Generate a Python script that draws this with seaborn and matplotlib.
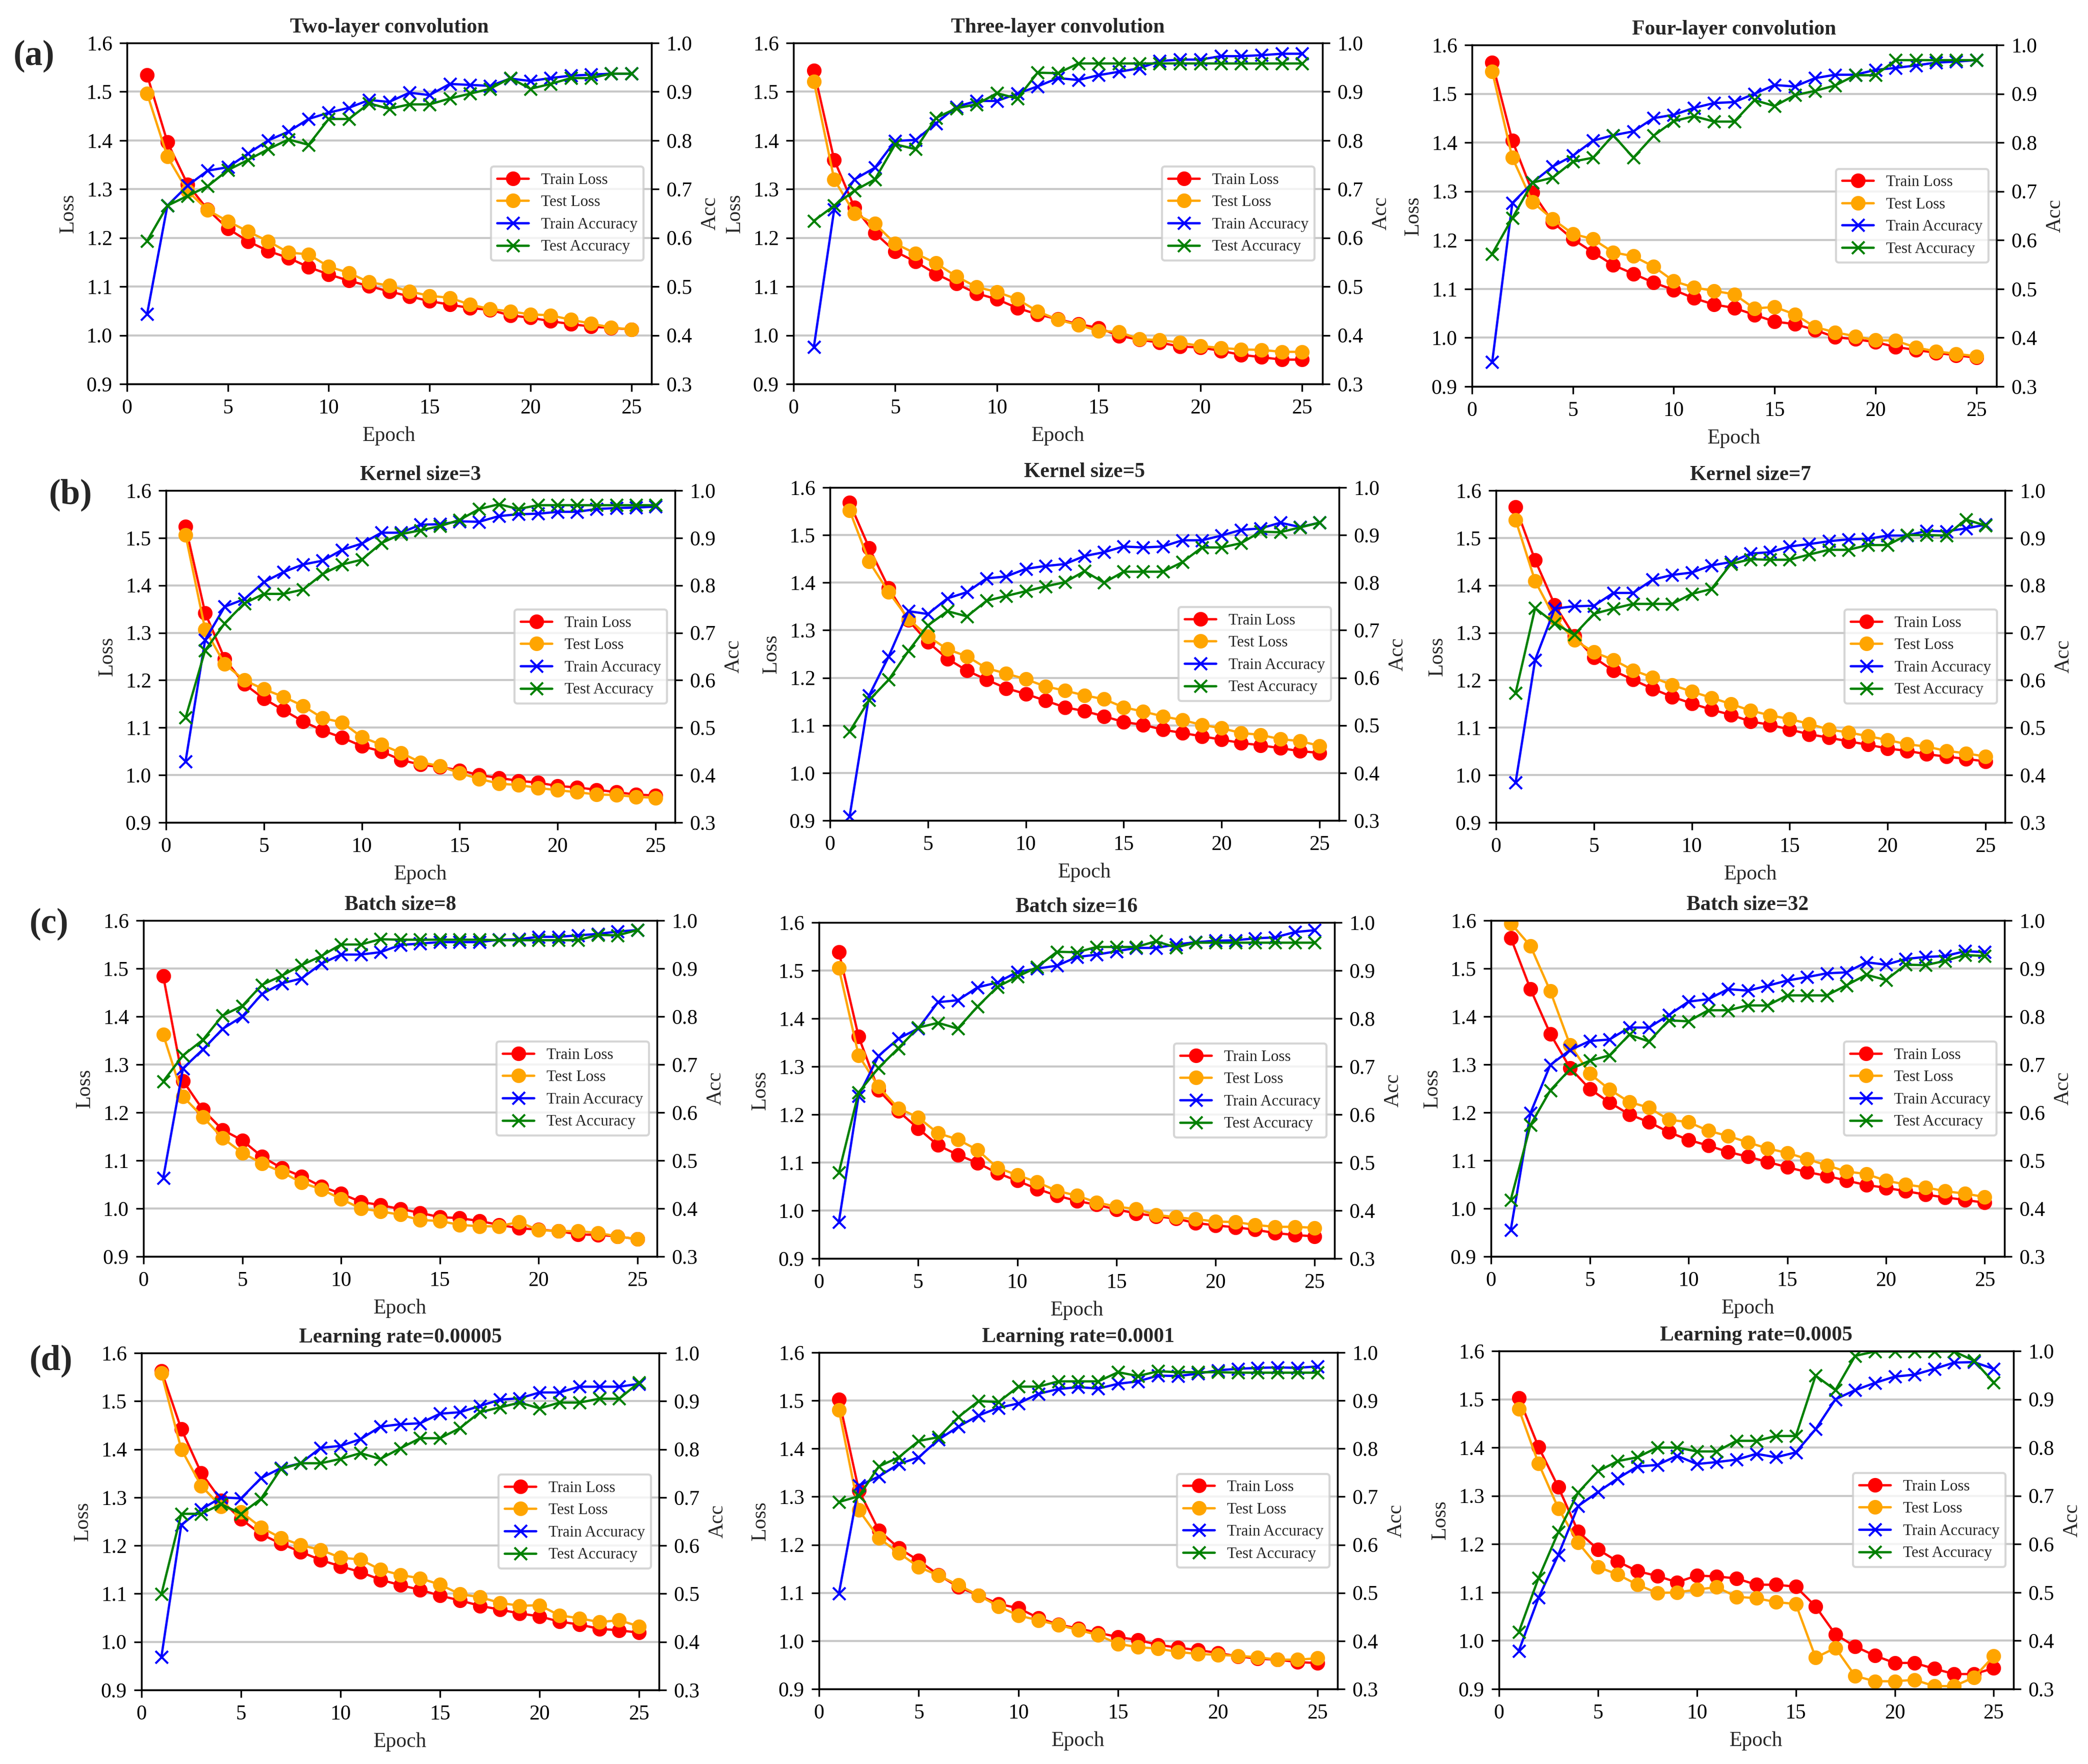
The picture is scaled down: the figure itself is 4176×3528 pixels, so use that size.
import numpy as np
import matplotlib
matplotlib.use("Agg")
import matplotlib.pyplot as plt
import seaborn as sns

# Epoch axis shared by every panel
epochs = np.arange(1, 26)

# (a) number of convolution layers
two_train_loss = [1.534, 1.397, 1.310, 1.258, 1.219, 1.193, 1.173, 1.159, 1.140, 1.125, 1.112, 1.101, 1.090,
                  1.080, 1.070, 1.063, 1.056, 1.052, 1.041, 1.036, 1.029, 1.023, 1.018, 1.015, 1.012]
two_test_loss = [1.496, 1.367, 1.296, 1.257, 1.234, 1.213, 1.193, 1.170, 1.166, 1.141, 1.128, 1.109, 1.102,
                 1.090, 1.081, 1.077, 1.063, 1.054, 1.049, 1.043, 1.041, 1.032, 1.024, 1.016, 1.012]
two_train_acc = [0.444, 0.666, 0.707, 0.738, 0.745, 0.773, 0.800, 0.818, 0.844, 0.857, 0.867, 0.883, 0.879,
                 0.898, 0.893, 0.916, 0.914, 0.912, 0.927, 0.922, 0.928, 0.933, 0.935, 0.937, 0.937]
two_test_acc = [0.594, 0.666, 0.686, 0.706, 0.739, 0.760, 0.782, 0.802, 0.791, 0.844, 0.844, 0.876, 0.865,
                0.874, 0.874, 0.886, 0.896, 0.906, 0.928, 0.906, 0.916, 0.928, 0.928, 0.937, 0.937]

three_train_loss = [1.544, 1.360, 1.262, 1.210, 1.172, 1.151, 1.126, 1.106, 1.086, 1.074, 1.056, 1.043, 1.033,
                    1.023, 1.015, 0.999, 0.991, 0.985, 0.977, 0.975, 0.968, 0.960, 0.955, 0.950, 0.950]
three_test_loss = [1.521, 1.320, 1.250, 1.229, 1.188, 1.168, 1.148, 1.121, 1.099, 1.089, 1.074, 1.049, 1.032,
                   1.021, 1.009, 1.007, 0.992, 0.990, 0.985, 0.978, 0.974, 0.971, 0.970, 0.966, 0.966]
three_train_acc = [0.376, 0.658, 0.720, 0.744, 0.799, 0.801, 0.835, 0.869, 0.881, 0.881, 0.896, 0.911, 0.928,
                   0.924, 0.934, 0.941, 0.948, 0.963, 0.966, 0.966, 0.973, 0.973, 0.975, 0.978, 0.978]
three_test_acc = [0.635, 0.666, 0.697, 0.720, 0.792, 0.782, 0.846, 0.866, 0.874, 0.897, 0.886, 0.939, 0.938,
                  0.958, 0.958, 0.958, 0.958, 0.958, 0.958, 0.958, 0.958, 0.958, 0.958, 0.958, 0.958]

four_train_loss = [1.564, 1.404, 1.298, 1.237, 1.202, 1.175, 1.149, 1.131, 1.113, 1.098, 1.081, 1.068, 1.061,
                   1.047, 1.033, 1.028, 1.016, 1.001, 0.997, 0.991, 0.981, 0.975, 0.969, 0.964, 0.959]
four_test_loss = [1.546, 1.369, 1.278, 1.243, 1.213, 1.202, 1.175, 1.167, 1.146, 1.116, 1.103, 1.096, 1.089,
                  1.060, 1.063, 1.048, 1.022, 1.011, 1.003, 0.995, 0.994, 0.980, 0.972, 0.967, 0.962]
four_train_acc = [0.350, 0.676, 0.718, 0.751, 0.773, 0.804, 0.815, 0.823, 0.850, 0.857, 0.871, 0.881, 0.883,
                  0.900, 0.918, 0.915, 0.932, 0.939, 0.939, 0.949, 0.953, 0.958, 0.964, 0.966, 0.969]
four_test_acc = [0.572, 0.645, 0.718, 0.728, 0.761, 0.769, 0.815, 0.769, 0.814, 0.844, 0.854, 0.843, 0.843,
                 0.887, 0.875, 0.897, 0.906, 0.917, 0.938, 0.938, 0.969, 0.969, 0.969, 0.969, 0.969]

# (b) kernel size
k3_train_loss = [1.524, 1.342, 1.245, 1.192, 1.161, 1.137, 1.113, 1.094, 1.079, 1.061, 1.050, 1.032, 1.022,
                 1.017, 1.010, 1.000, 0.994, 0.988, 0.984, 0.977, 0.974, 0.969, 0.964, 0.959, 0.957]
k3_test_loss = [1.506, 1.307, 1.234, 1.200, 1.181, 1.165, 1.146, 1.120, 1.111, 1.080, 1.064, 1.047, 1.027,
                1.019, 1.004, 0.992, 0.982, 0.979, 0.973, 0.968, 0.964, 0.959, 0.958, 0.954, 0.952]
k3_train_acc = [0.429, 0.685, 0.755, 0.771, 0.807, 0.828, 0.844, 0.852, 0.875, 0.888, 0.911, 0.911, 0.928,
                0.929, 0.935, 0.934, 0.946, 0.950, 0.951, 0.955, 0.955, 0.961, 0.963, 0.964, 0.966]
k3_test_acc = [0.521, 0.663, 0.720, 0.762, 0.782, 0.782, 0.791, 0.824, 0.844, 0.854, 0.889, 0.908, 0.916,
               0.925, 0.938, 0.961, 0.971, 0.961, 0.969, 0.969, 0.969, 0.969, 0.969, 0.969, 0.969]

k5_train_loss = [1.568, 1.473, 1.389, 1.321, 1.275, 1.240, 1.215, 1.196, 1.178, 1.166, 1.152, 1.138, 1.130,
                 1.119, 1.107, 1.101, 1.091, 1.084, 1.077, 1.070, 1.063, 1.058, 1.052, 1.046, 1.042]
k5_test_loss = [1.552, 1.444, 1.380, 1.324, 1.287, 1.260, 1.245, 1.220, 1.209, 1.197, 1.182, 1.173, 1.163,
                1.155, 1.138, 1.129, 1.119, 1.111, 1.101, 1.094, 1.084, 1.080, 1.071, 1.067, 1.057]
k5_train_acc = [0.308, 0.563, 0.645, 0.740, 0.734, 0.767, 0.780, 0.809, 0.813, 0.829, 0.835, 0.839, 0.856,
                0.864, 0.876, 0.874, 0.876, 0.889, 0.889, 0.899, 0.911, 0.914, 0.926, 0.917, 0.926]
k5_test_acc = [0.487, 0.553, 0.596, 0.656, 0.710, 0.740, 0.729, 0.762, 0.772, 0.782, 0.792, 0.801, 0.824,
               0.800, 0.823, 0.823, 0.823, 0.843, 0.874, 0.874, 0.883, 0.907, 0.906, 0.916, 0.926]

k7_train_loss = [1.565, 1.453, 1.359, 1.293, 1.248, 1.220, 1.201, 1.182, 1.165, 1.151, 1.138, 1.127, 1.113,
                 1.106, 1.096, 1.086, 1.079, 1.071, 1.064, 1.056, 1.051, 1.044, 1.039, 1.034, 1.029]
k7_test_loss = [1.538, 1.409, 1.331, 1.285, 1.259, 1.243, 1.221, 1.206, 1.190, 1.176, 1.163, 1.150, 1.136,
                1.126, 1.118, 1.108, 1.096, 1.090, 1.082, 1.074, 1.065, 1.060, 1.051, 1.046, 1.039]
k7_train_acc = [0.384, 0.643, 0.751, 0.756, 0.757, 0.784, 0.784, 0.812, 0.822, 0.827, 0.842, 0.849, 0.867,
                0.870, 0.882, 0.887, 0.893, 0.897, 0.898, 0.905, 0.905, 0.915, 0.914, 0.920, 0.928]
k7_test_acc = [0.573, 0.752, 0.720, 0.696, 0.740, 0.751, 0.761, 0.761, 0.761, 0.782, 0.792, 0.845, 0.855,
               0.854, 0.854, 0.865, 0.875, 0.875, 0.885, 0.885, 0.906, 0.906, 0.905, 0.939, 0.926]

# (c) batch size
b8_train_loss = [1.484, 1.266, 1.206, 1.164, 1.142, 1.108, 1.084, 1.067, 1.046, 1.031, 1.014, 1.007, 0.999,
                 0.991, 0.982, 0.980, 0.974, 0.966, 0.959, 0.956, 0.953, 0.946, 0.945, 0.942, 0.936]
b8_test_loss = [1.362, 1.233, 1.191, 1.147, 1.116, 1.094, 1.076, 1.054, 1.040, 1.020, 1.000, 0.994, 0.987,
                0.976, 0.974, 0.966, 0.963, 0.963, 0.972, 0.955, 0.953, 0.953, 0.949, 0.942, 0.936]
b8_train_acc = [0.464, 0.692, 0.731, 0.774, 0.800, 0.847, 0.869, 0.879, 0.910, 0.929, 0.929, 0.934, 0.949,
                0.952, 0.955, 0.955, 0.955, 0.960, 0.961, 0.966, 0.966, 0.969, 0.972, 0.977, 0.980]
b8_test_acc = [0.665, 0.719, 0.751, 0.802, 0.822, 0.866, 0.885, 0.907, 0.926, 0.950, 0.950, 0.961, 0.960,
               0.960, 0.960, 0.960, 0.960, 0.959, 0.959, 0.959, 0.959, 0.959, 0.970, 0.969, 0.980]

b16_train_loss = [1.539, 1.362, 1.251, 1.207, 1.171, 1.136, 1.116, 1.099, 1.078, 1.062, 1.045, 1.031, 1.020,
                  1.012, 1.002, 0.994, 0.988, 0.983, 0.974, 0.969, 0.965, 0.960, 0.953, 0.949, 0.946]
b16_test_loss = [1.505, 1.323, 1.258, 1.213, 1.194, 1.161, 1.148, 1.126, 1.089, 1.074, 1.059, 1.041, 1.031,
                 1.017, 1.008, 1.003, 0.991, 0.986, 0.982, 0.977, 0.976, 0.970, 0.966, 0.966, 0.964]
b16_train_acc = [0.376, 0.639, 0.722, 0.758, 0.779, 0.834, 0.838, 0.865, 0.875, 0.897, 0.904, 0.910, 0.928,
                 0.933, 0.940, 0.947, 0.947, 0.954, 0.959, 0.962, 0.963, 0.967, 0.969, 0.980, 0.984]
b16_test_acc = [0.479, 0.646, 0.697, 0.738, 0.781, 0.791, 0.779, 0.825, 0.866, 0.887, 0.907, 0.939, 0.938,
                0.949, 0.949, 0.949, 0.961, 0.948, 0.958, 0.958, 0.958, 0.958, 0.958, 0.958, 0.958]

b32_train_loss = [1.564, 1.457, 1.364, 1.293, 1.249, 1.221, 1.196, 1.180, 1.159, 1.143, 1.131, 1.118, 1.108,
                  1.097, 1.086, 1.076, 1.068, 1.058, 1.049, 1.043, 1.036, 1.029, 1.023, 1.018, 1.012]
b32_test_loss = [1.594, 1.547, 1.453, 1.341, 1.281, 1.248, 1.222, 1.210, 1.185, 1.180, 1.162, 1.151, 1.138,
                 1.125, 1.116, 1.103, 1.090, 1.077, 1.072, 1.058, 1.050, 1.044, 1.036, 1.031, 1.024]
b32_train_acc = [0.355, 0.599, 0.699, 0.730, 0.749, 0.752, 0.777, 0.777, 0.803, 0.831, 0.836, 0.857, 0.854,
                 0.864, 0.875, 0.882, 0.890, 0.892, 0.913, 0.908, 0.920, 0.924, 0.926, 0.936, 0.934]
b32_test_acc = [0.418, 0.574, 0.646, 0.690, 0.708, 0.719, 0.762, 0.748, 0.792, 0.790, 0.813, 0.813, 0.823,
                0.823, 0.844, 0.844, 0.844, 0.865, 0.887, 0.876, 0.908, 0.907, 0.916, 0.928, 0.926]

# (d) learning rate
lr1_train_loss = [1.563, 1.442, 1.351, 1.294, 1.255, 1.224, 1.204, 1.187, 1.170, 1.157, 1.145, 1.129, 1.118,
                  1.108, 1.096, 1.086, 1.075, 1.067, 1.059, 1.053, 1.042, 1.036, 1.027, 1.024, 1.019]
lr1_test_loss = [1.558, 1.400, 1.324, 1.281, 1.270, 1.238, 1.216, 1.201, 1.191, 1.175, 1.171, 1.150, 1.139,
                 1.132, 1.119, 1.099, 1.093, 1.081, 1.075, 1.076, 1.055, 1.049, 1.041, 1.045, 1.032]
lr1_train_acc = [0.369, 0.643, 0.675, 0.700, 0.698, 0.740, 0.761, 0.771, 0.803, 0.807, 0.821, 0.847, 0.852,
                 0.854, 0.874, 0.877, 0.890, 0.903, 0.906, 0.918, 0.918, 0.930, 0.930, 0.930, 0.936]
lr1_test_acc = [0.499, 0.666, 0.666, 0.686, 0.666, 0.697, 0.759, 0.771, 0.771, 0.780, 0.792, 0.780, 0.802,
                0.823, 0.823, 0.844, 0.877, 0.887, 0.897, 0.885, 0.897, 0.897, 0.905, 0.905, 0.939]

lr2_train_loss = [1.502, 1.313, 1.230, 1.193, 1.167, 1.137, 1.112, 1.095, 1.077, 1.068, 1.048, 1.034, 1.026,
                  1.017, 1.008, 1.002, 0.992, 0.986, 0.981, 0.975, 0.968, 0.963, 0.961, 0.956, 0.954]
lr2_test_loss = [1.480, 1.272, 1.214, 1.183, 1.154, 1.136, 1.116, 1.095, 1.072, 1.053, 1.043, 1.033, 1.023,
                 1.012, 0.994, 0.987, 0.984, 0.977, 0.973, 0.971, 0.969, 0.966, 0.961, 0.961, 0.964]
lr2_train_acc = [0.499, 0.723, 0.742, 0.768, 0.782, 0.819, 0.846, 0.869, 0.885, 0.894, 0.914, 0.924, 0.928,
                 0.925, 0.935, 0.940, 0.952, 0.951, 0.956, 0.963, 0.966, 0.968, 0.969, 0.968, 0.971]
lr2_test_acc = [0.689, 0.701, 0.763, 0.782, 0.816, 0.824, 0.866, 0.899, 0.897, 0.929, 0.929, 0.940, 0.940,
                0.940, 0.959, 0.951, 0.961, 0.959, 0.959, 0.959, 0.958, 0.958, 0.958, 0.958, 0.958]

lr3_train_loss = [1.503, 1.401, 1.318, 1.226, 1.189, 1.164, 1.144, 1.134, 1.121, 1.135, 1.133, 1.129, 1.116,
                  1.116, 1.112, 1.071, 1.013, 0.988, 0.969, 0.954, 0.954, 0.942, 0.931, 0.931, 0.943]
lr3_test_loss = [1.480, 1.367, 1.274, 1.203, 1.153, 1.137, 1.116, 1.099, 1.100, 1.106, 1.111, 1.091, 1.088,
                 1.080, 1.076, 0.965, 0.985, 0.927, 0.916, 0.916, 0.919, 0.906, 0.906, 0.924, 0.968]
lr3_train_acc = [0.379, 0.489, 0.578, 0.679, 0.708, 0.736, 0.761, 0.764, 0.783, 0.766, 0.770, 0.775, 0.787,
                 0.780, 0.790, 0.838, 0.900, 0.919, 0.934, 0.947, 0.951, 0.963, 0.976, 0.977, 0.963]
lr3_test_acc = [0.418, 0.530, 0.625, 0.707, 0.751, 0.772, 0.780, 0.800, 0.800, 0.792, 0.792, 0.814, 0.814,
                0.824, 0.824, 0.949, 0.919, 0.990, 0.999, 0.999, 0.999, 0.999, 0.999, 0.980, 0.935]

titles = ["Two-layer convolution", "Three-layer convolution", "Four-layer convolution",
          "Kernel size=3", "Kernel size=5", "Kernel size=7",
          "Batch size=8", "Batch size=16", "Batch size=32",
          "Learning rate=0.00005", "Learning rate=0.0001", "Learning rate=0.0005"]
series_names = ["Train Loss", "Test Loss", "Train Accuracy", "Test Accuracy"]
row_letters = ["(a)", "(b)", "(c)", "(d)"]

panels = [
    (two_train_loss, two_test_loss, two_train_acc, two_test_acc),
    (three_train_loss, three_test_loss, three_train_acc, three_test_acc),
    (four_train_loss, four_test_loss, four_train_acc, four_test_acc),
    (k3_train_loss, k3_test_loss, k3_train_acc, k3_test_acc),
    (k5_train_loss, k5_test_loss, k5_train_acc, k5_test_acc),
    (k7_train_loss, k7_test_loss, k7_train_acc, k7_test_acc),
    (b8_train_loss, b8_test_loss, b8_train_acc, b8_test_acc),
    (b16_train_loss, b16_test_loss, b16_train_acc, b16_test_acc),
    (b32_train_loss, b32_test_loss, b32_train_acc, b32_test_acc),
    (lr1_train_loss, lr1_test_loss, lr1_train_acc, lr1_test_acc),
    (lr2_train_loss, lr2_test_loss, lr2_train_acc, lr2_test_acc),
    (lr3_train_loss, lr3_test_loss, lr3_train_acc, lr3_test_acc),
]

# axes boxes in pixels: left, top, right, bottom
boxes = [
    (254, 86, 1303, 768), (1587, 86, 2645, 768), (2944, 90, 3993, 773),
    (332, 981, 1350, 1645), (1660, 975, 2678, 1641), (2992, 981, 4010, 1645),
    (287, 1841, 1314, 2513), (1638, 1845, 2669, 2517), (2982, 1841, 4009, 2513),
    (283, 2706, 1318, 3380), (1638, 2705, 2675, 3378), (2998, 2702, 4027, 3378),
]
letter_pos = [(27, 112), (98, 990), (59, 1848), (59, 2722)]

sns.set_theme(style="ticks")
plt.rcParams['font.family'] = ['Liberation Serif', 'DejaVu Serif']
plt.rcParams['axes.edgecolor'] = 'black'
plt.rcParams['axes.linewidth'] = 0.8

W, H = 4176, 3528
fig = plt.figure(figsize=(W / 300, H / 300), dpi=300)

colors = ['red', 'orange', 'blue', 'green']
markers = ['o', 'o', 'x', 'x']

for title, data, (l, t, r, b) in zip(titles, panels, boxes):
    ax = fig.add_axes([l / W, 1 - b / H, (r - l) / W, (b - t) / H])
    ax2 = ax.twinx()
    for i, (vals, name) in enumerate(zip(data, series_names)):
        target = ax if i < 2 else ax2
        sns.lineplot(x=epochs, y=vals, ax=target, color=colors[i], marker=markers[i],
                     markersize=6, markeredgecolor=colors[i], markeredgewidth=1.0,
                     linewidth=1.1, label=name, errorbar=None, legend=False)

    ax.set_xlim(0, 26)
    ax.set_ylim(0.9, 1.6)
    ax2.set_ylim(0.3, 1.0)
    ax.set_xticks([0, 5, 10, 15, 20, 25])
    ax.set_yticks(np.arange(0.9, 1.61, 0.1))
    ax2.set_yticks(np.arange(0.3, 1.01, 0.1))
    ax.yaxis.set_major_formatter(matplotlib.ticker.FormatStrFormatter('%.1f'))
    ax2.yaxis.set_major_formatter(matplotlib.ticker.FormatStrFormatter('%.1f'))
    ax.grid(axis='y', color='#c8c8c8', linewidth=1.0)
    ax.set_axisbelow(True)
    for a in (ax, ax2):
        a.tick_params(labelsize=10, length=3.5, width=0.8, direction='out', colors='black')
        for s in a.spines.values():
            s.set_color('black')
            s.set_linewidth(0.8)

    ax.set_xlabel("Epoch", fontsize=10)
    ax.set_ylabel("Loss", fontsize=10)
    ax2.set_ylabel("Acc", fontsize=10)
    ax.set_title(title, fontsize=10, fontweight='bold', pad=5)

    h1, l1 = ax.get_legend_handles_labels()
    h2, l2 = ax2.get_legend_handles_labels()
    ax2.legend(h1 + h2, l1 + l2, loc='center right', fontsize=7.5, frameon=True,
               edgecolor='#cccccc', framealpha=0.8)

for letter, (x, y) in zip(row_letters, letter_pos):
    fig.text(x / W, 1 - y / H, letter, fontsize=17, fontweight='bold', va='center', ha='left')

fig.savefig("out.png", dpi=300)
